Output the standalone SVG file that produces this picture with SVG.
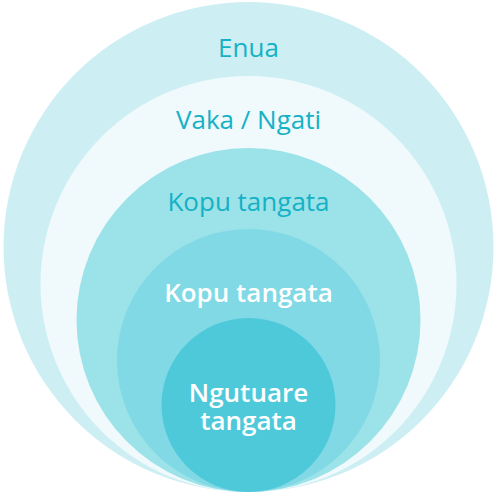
<svg xmlns="http://www.w3.org/2000/svg" width="494" height="494" viewBox="0 0 494 494">
<style>
text{font-family:"Open Sans","Liberation Sans",sans-serif;font-size:26px;text-anchor:middle;font-weight:500}
.t{fill:#15b1c5}
.w{fill:#ffffff;font-weight:600}
</style>
<rect width="494" height="494" fill="#ffffff"/>
<g id="enua"><circle cx="248.5" cy="247" r="245" fill="#cdeff3"/><text class="t" x="248.5" y="57">Enua</text></g>
<g id="vaka"><circle cx="248.5" cy="284" r="208" fill="#f0fafc"/><text class="t" x="248.5" y="128.5">Vaka / Ngati</text></g>
<g id="kopu1"><circle cx="248.5" cy="320" r="172" fill="#9be2e9"/><text class="t" x="248.5" y="211">Kopu tangata</text></g>
<g id="kopu2"><circle cx="248.5" cy="360.5" r="131.5" fill="#80d9e4"/><text class="w" x="248.5" y="301.5">Kopu tangata</text></g>
<g id="ngutuare"><circle cx="248.5" cy="405" r="87" fill="#4ec9d9"/><text class="w" x="248.5" y="401.5">Ngutuare</text><text class="w" x="248.5" y="430">tangata</text></g>
<g id="connectors"/>
</svg>
